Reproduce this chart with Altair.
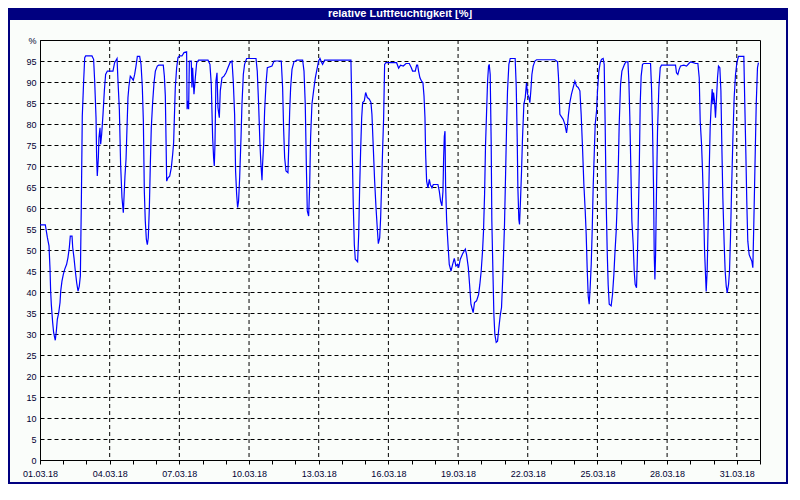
import altair as alt
import pandas as pd

TITLE = "relative Luftfeuchtigkeit [%]"

# hours since 01.03.18 00:00 and relative humidity [%]
hours_a = [0, 5.5, 7.6, 9.3, 10.3, 11.0, 11.7, 13.1, 14.1, 15.8, 16.9, 17.9, 19.3, 20.7, 21.4,
           22.7, 24.1, 25.5, 27.5, 28.9, 30.3, 31.3, 33.1, 33.8, 35.1, 36.5, 37.9, 39.3, 40.6, 41.7,
           42.7, 43.7, 45.1, 46.2, 47.2, 53.7, 55.4, 56.5, 57.9, 58.5, 59.2, 60.3, 60.9, 62.0, 62.7,
           63.7, 65.1, 66.5, 67.8, 69.6, 75.4, 77.1, 79.6, 80.6, 82.0, 83.3, 84.7, 86.1, 86.8, 87.8,
           88.9, 89.9, 90.9, 91.9, 93.3, 94.7, 96.4, 97.8, 99.2, 100.6, 103.0, 104.4, 105.7, 106.8, 107.8,
           108.8, 109.9, 110.9, 111.9, 113.0, 114.0, 115.0, 116.4, 117.8, 119.2, 121.2, 122.6, 127.4, 128.5, 129.5,
           130.2, 130.9, 132.2, 134.0, 135.7, 137.1, 138.1, 138.8, 139.8, 141.2, 142.6, 144.3, 146.7, 148.8, 151.5]
rh_a = [56, 56, 53, 51, 45.8, 40.2, 37, 32.7, 30.3, 28.5, 30.7, 33.5, 35, 37.5, 40.2,
        42.6, 44.2, 45.4, 46.6, 48.2, 50.6, 53.3, 53.3, 50.6, 48.2, 45, 42.2, 40.2, 41.4, 43.8,
        60.9, 81.9, 90.2, 95.8, 96.2, 96.2, 95.4, 90.2, 81.5, 72.4, 67.6, 72, 76.7, 79.1, 75.2,
        77.5, 82.3, 87.9, 91.8, 92.6, 92.6, 94.6, 95.6, 90.2, 83.5, 70.4, 62.5, 58.9, 62.5, 67.6,
        71.6, 79.1, 86.3, 89, 91.4, 91, 90.4, 91.8, 93.8, 96.1, 96.1, 94.2, 89, 80.7, 64,
        56.9, 52.5, 51.3, 52.9, 60.1, 70.4, 79.1, 85.1, 89.8, 92.6, 93.8, 94, 94, 91.4, 86.7,
        76.7, 66.4, 67.2, 67.6, 69.6, 72.8, 75.6, 81.1, 88.7, 93.4, 95.8, 96.2, 96.2, 97, 97.2]

hours_b = [152.0, 152.9, 153.6, 154.3, 156.3, 157.0, 157.7, 159.1, 160.5, 161.9, 163.9, 173.6, 175.6, 177.0, 178.4,
           179.4, 180.1, 180.8, 181.8, 182.9, 183.9, 185.3, 186.3, 188.0, 190.1, 192.2, 194.2, 196.3, 198.4, 199.7,
           201.1, 202.1, 203.2, 204.2, 205.2, 206.3, 207.7, 208.7, 210.1, 211.4, 213.5, 223.2, 224.5, 225.9, 227.3,
           228.3, 229.4, 230.0, 231.1, 232.1, 233.5, 234.9, 239.7, 241.8, 249.3, 250.7, 251.7, 252.8, 254.2, 256.2,
           256.9, 258.0, 259.0, 260.4, 262.4, 265.5, 271.4, 272.8, 274.1, 275.2, 276.2, 277.6, 278.6, 279.6, 281.0,
           282.7, 284.5, 286.2, 287.9, 289.3, 290.7, 292.0, 294.1, 300.3]
rh_b = [83.5, 85.5, 83.5, 95, 95, 88.7, 93.4, 87.1, 91, 94.6, 95.2, 95.2, 94.2, 89.4, 76.7,
        72, 70, 75.2, 90.2, 92.2, 83.9, 81.5, 87.9, 91, 91.4, 92.2, 93.4, 94.6, 95, 90.2,
        82.3, 68.8, 63.3, 60.1, 61.7, 67.2, 76.7, 84.7, 91.8, 94.2, 95.6, 95.6, 92.6, 84.7, 75.2,
        70.4, 66.6, 70.4, 75.2, 83.1, 89.4, 93.4, 93.8, 95, 95, 88.7, 79.1, 72, 68.8, 68.4,
        73.6, 83.1, 88.7, 93, 94.8, 95.2, 95.2, 92.6, 84.7, 70.4, 59.3, 58.1, 64.8, 76.7, 84.7,
        87.9, 91, 93, 95, 95.6, 94.8, 94.2, 95.2, 95.2]

hours_c = [321.3, 322.0, 322.7, 323.7, 324.8, 325.8, 328.2, 329.3, 330.3, 331.3, 332.4, 333.4, 335.1, 336.5, 338.2,
           340.3, 342.0, 343.0, 344.4, 345.8, 347.2, 348.5, 349.6, 351.0, 352.0, 353.0, 354.1, 355.1, 356.1, 357.5,
           368.5, 370.6, 372.6, 375.4, 378.2, 381.6, 383.7, 385.0, 387.8, 389.2, 390.2, 391.2, 392.6, 394.3, 395.7,
           396.8, 397.8, 398.5, 399.5, 400.9, 402.3, 403.3, 405.0, 406.4, 411.2, 412.6, 413.9, 415.3, 416.4, 417.1,
           417.8, 418.5, 419.1, 420.2, 421.6, 422.9, 424.7, 426.4, 428.1, 429.8, 431.5, 432.6, 434.3, 436.7, 439.5,
           440.8, 442.6]
rh_c = [95.2, 86.7, 72.8, 60.9, 51.3, 47.8, 47.2, 53.7, 64.8, 73.6, 81.5, 85.1, 85.5, 87.5, 86.3,
        85.9, 85.1, 82.3, 74.4, 66.4, 60.1, 55.3, 51.5, 52.9, 57.7, 65.6, 74.4, 81.5, 94.2, 94.6,
        94.6, 93.3, 94, 93.8, 94.4, 94.4, 93.4, 92.6, 92.6, 94, 94, 92.6, 91, 90.2, 89.8,
        86.7, 81.5, 72.8, 66.4, 64.8, 66.8, 65.6, 64.8, 65.6, 65.6, 64, 61.7, 60.5, 64, 72,
        77.1, 78.3, 65.6, 56.9, 51.3, 46.6, 45, 46.6, 48, 46.2, 46.6, 45.8, 47.8, 49.1, 50.2,
        48.9, 45.8]

hours_d = [443.9, 445.3, 447.6, 449.0, 451.1, 453.2, 454.5, 455.9, 457.3, 458.3, 459.4, 460.4, 461.4, 462.5, 463.5,
           464.2, 465.2, 466.2, 466.9, 468.0, 469.0, 470.0, 471.4, 472.8, 474.2, 475.5, 476.9, 477.9, 479.0, 480.0,
           481.1, 482.1, 483.1, 484.5, 485.9, 491.0, 492.1, 493.1, 493.8, 494.8, 495.5, 496.5, 497.6, 498.6, 500.0,
           501.4, 502.7, 503.8, 505.2, 506.2, 507.2, 508.3, 509.6, 511.4, 513.1, 532.0, 534.8, 535.8, 537.2, 538.9,
           540.6, 542.4, 544.1, 544.8, 546.1, 547.5, 549.2, 551.0, 552.7, 554.4, 556.1, 557.9, 559.2, 560.6, 562.0,
           563.4, 564.4, 565.4, 566.5, 567.5, 568.5, 569.6, 570.6, 571.6, 572.7, 573.7, 575.1, 576.1, 577.5, 578.9,
           580.2, 581.9, 583.0, 584.0, 585.1, 586.1, 587.1, 588.2, 590.2, 591.6, 593.0]
rh_d = [41.8, 37.1, 35.1, 37.5, 37.9, 39.4, 41.8, 45, 49.8, 54.5, 63.3, 75.2, 82.3, 90.2, 93.8,
        94.2, 91.8, 76, 56.9, 45, 34.7, 29.9, 28, 28.3, 31.5, 34.3, 36.3, 41.8, 48.9, 56.1,
        68, 79.1, 87.9, 94.2, 95.6, 95.6, 89, 76.7, 64.8, 57.3, 56.1, 61.7, 68.8, 76.7, 84.7,
        86.3, 89.8, 87.1, 86.3, 85.1, 87.9, 91.8, 93.8, 95, 95.3, 95.3, 94.8, 91, 82.3, 81.7,
        81.1, 79.9, 77.9, 79.1, 82.3, 85.1, 87.1, 88.7, 90.2, 89, 88.7, 87.9, 82.3, 74.4, 65.6,
        59.3, 53.7, 45.8, 39, 37.1, 41, 46.6, 54.5, 64.8, 72.8, 79.9, 83.1, 87.9, 92.6, 94.6,
        95.4, 95.6, 94.2, 79.9, 60.9, 49.8, 41.8, 37.1, 36.7, 39.4, 44.2]

hours_e = [594.0, 595.4, 596.4, 597.5, 598.5, 599.9, 601.3, 602.6, 604.0, 605.4, 607.5, 608.5, 609.5, 610.6, 611.6,
           613.0, 614.0, 615.0, 616.4, 617.1, 618.1, 619.2, 620.2, 621.2, 622.6, 624.0, 630.9, 631.9, 633.0, 634.0,
           634.7, 635.4, 636.1, 637.1, 638.1, 639.5, 640.9, 642.2, 656.7, 657.7, 659.1, 660.5, 661.9, 665.3, 668.1,
           670.5, 672.2, 675.0, 677.4, 679.8, 681.2, 682.2, 683.6, 684.6, 685.6, 686.7, 687.7, 688.4, 689.4, 690.5,
           691.5, 692.5, 693.6, 694.6, 695.3, 696.0, 697.0, 698.0, 699.1, 700.1, 701.1, 702.5, 703.6, 704.6, 705.6,
           707.0, 708.0, 709.1, 710.1, 711.5, 712.5, 713.5, 714.6, 716.0, 717.3, 718.7, 720.1, 721.8, 727.3, 728.3,
           729.4, 730.4, 731.4, 732.8, 734.2, 735.6, 736.6, 737.6, 738.7, 740.1, 741.4, 742.4]
rh_e = [48.9, 54.5, 60.9, 68.8, 79.9, 89.4, 92.6, 93.4, 94.2, 94.8, 94.8, 90.2, 81.5, 68.8, 56.9,
        51.3, 45, 41.8, 41, 46.6, 56.1, 68.8, 84.7, 91.4, 94.2, 94.4, 94.4, 88.7, 78.3, 64.8,
        48.9, 43, 48.9, 64.8, 78.3, 88.7, 93.4, 94, 94, 92.2, 91.8, 93, 93.8, 94, 93.8,
        94.4, 94.8, 94.6, 94.4, 94.4, 91, 80.7, 75.2, 68.8, 60.9, 49.8, 44.2, 40.1, 45, 56.9,
        68.8, 79.1, 84.7, 88.3, 84.7, 87.5, 85.5, 81.5, 86.3, 91, 93.8, 93.4, 87.9, 74.4, 62.5,
        51.3, 45, 41.4, 39.8, 41.8, 45, 53, 64, 76.7, 86.3, 91.8, 94.6, 96.1, 96.1, 84.7,
        72.8, 60.9, 52.1, 48.9, 48.1, 47.3, 45.8, 56.1, 68.8, 84.7, 93.4, 94.6]

grid_days = [4, 7, 10, 13, 16, 19, 22, 25, 28, 31]
y_ticks = list(range(0, 101, 5))

hours = hours_a + hours_b + hours_c + hours_d + hours_e
rh = rh_a + rh_b + rh_c + rh_d + rh_e
t0 = pd.Timestamp("2018-03-01T00:00:00")
times = [(t0 + pd.Timedelta(hours=h)).strftime("%Y-%m-%dT%H:%M:%SZ") for h in hours]
df = pd.DataFrame({"t": times, "rh": rh})
grid_df = pd.DataFrame({"d": [f"2018-03-{d:02d}T00:00:00Z" for d in grid_days]})

FONT = "Liberation Sans"
LABEL_COLOR = "#000033"

xscale = alt.Scale(
    type="utc",
    domain=[alt.DateTime(year=2018, month=3, date=1, utc=True),
            alt.DateTime(year=2018, month=4, date=1, utc=True)],
    nice=False,
)
xaxis = alt.Axis(
    title=None,
    values=[alt.DateTime(year=2018, month=3, date=d, utc=True) for d in range(1, 32)]
    + [alt.DateTime(year=2018, month=4, date=1, utc=True)],
    labelExpr="utcmonth(datum.value) == 2 && (utcdate(datum.value) - 1) % 3 == 0 ? utcFormat(datum.value, '%d.%m.%y') : ''",
    grid=False,
    tickSize=4,
    tickColor="black",
    domainColor="black",
    labelFont=FONT,
    labelFontSize=9,
    labelColor=LABEL_COLOR,
    labelPadding=5,
    labelFlush=False,
    labelOverlap=False,
)
yaxis = alt.Axis(
    title=None,
    values=y_ticks,
    labelExpr="datum.value == 100 ? '%' : datum.label",
    grid=True,
    gridDash=[4, 3],
    gridColor="black",
    gridOpacity=1,
    tickSize=0,
    domainColor="black",
    labelFont=FONT,
    labelFontSize=9,
    labelColor=LABEL_COLOR,
    labelPadding=4,
    labelOverlap=False,
)

vgrid = alt.Chart(grid_df).mark_rule(color="black", strokeDash=[4, 3], strokeWidth=1).encode(
    x=alt.X("d:T", scale=xscale, axis=xaxis)
)

line = alt.Chart(df).mark_line(color="#0000FF", strokeWidth=1.2, interpolate="linear").encode(
    x=alt.X("t:T", scale=xscale, axis=xaxis),
    y=alt.Y("rh:Q", scale=alt.Scale(domain=[0, 100], nice=False), axis=yaxis),
)

one = pd.DataFrame({"title": [TITLE]})
title_bar = alt.Chart(one).mark_rect(color="#000080").encode(
    x=alt.value(-32), x2=alt.value(748), y=alt.value(-32), y2=alt.value(-20)
)
title_text = alt.Chart(one).mark_text(
    color="white", font=FONT, fontSize=11, fontWeight="bold", align="center", baseline="middle"
).encode(x=alt.value(360), y=alt.value(-26), text="title:N")
frame = alt.Chart(one).mark_rect(fillOpacity=0, stroke="#000080", strokeWidth=2).encode(
    x=alt.value(-31), x2=alt.value(747), y=alt.value(-31), y2=alt.value(443)
)

chart = alt.layer(vgrid, line, title_bar, title_text, frame).properties(
    width=720,
    height=420,
    autosize=alt.AutoSizeParams(type="none"),
    padding={"left": 32, "top": 32, "right": 28, "bottom": 24},
    background="#FAFDFA",
).configure_view(stroke="black", strokeWidth=1)

chart.save("out.html", embed_options={"renderer": "svg", "actions": False})
